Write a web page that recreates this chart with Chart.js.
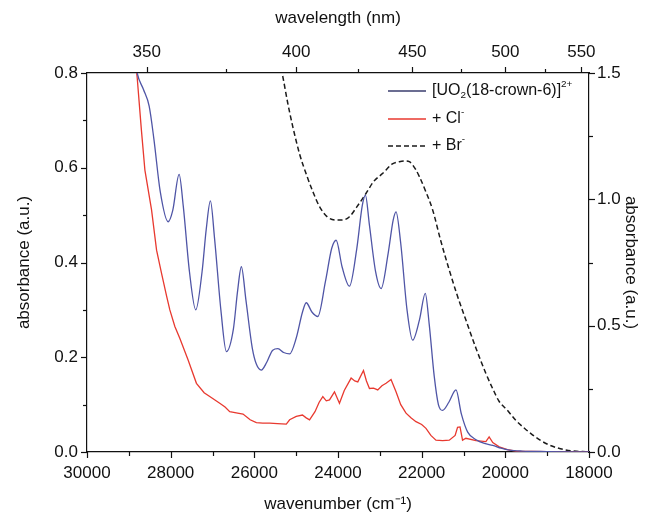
<!DOCTYPE html>
<html>
<head>
<meta charset="utf-8">
<title>UO2 crown absorbance</title>
<script src="https://cdn.jsdelivr.net/npm/chart.js@4.4.1/dist/chart.umd.min.js"></script>
<style>
  html, body { margin: 0; padding: 0; background: #fff; }
  #wrap { width: 650px; height: 516px; }
</style>
</head>
<body>
<div id="wrap"><canvas id="chart" width="650" height="516"></canvas></div>
<script>
// ----------------------------------------------------------------------------
// Data (wavenumber in cm-1, absorbance in a.u.)
// ----------------------------------------------------------------------------

// [UO2(18-crown-6)]2+  (left axis)
const crownX = [28850, 28800, 28650, 28514, 28400, 28250, 28060, 27950, 27798, 27700,
  27550, 27400, 27250, 27150, 27050, 26950, 26800, 26668, 26500, 26400,
  26310, 26200, 26050, 25950, 25833, 25700, 25560, 25437, 25300, 25156,
  25000, 24850, 24760, 24620, 24483, 24300, 24150, 24044, 23900, 23726,
  23550, 23420, 23344, 23250, 23100, 22970, 22800, 22680, 22613, 22500,
  22350, 22216, 22050, 21914, 21820, 21700, 21600, 21500, 21350, 21180,
  21050, 20900, 20700, 20500, 20300, 20100, 19900, 19600, 19000, 18000];
const crownY = [0.83, 0.80, 0.765, 0.73, 0.66, 0.55, 0.486, 0.51, 0.586, 0.52,
  0.38, 0.30, 0.38, 0.47, 0.53, 0.45, 0.30, 0.212, 0.26, 0.34,
  0.391, 0.32, 0.22, 0.185, 0.173, 0.19, 0.215, 0.218, 0.21, 0.207,
  0.24, 0.295, 0.315, 0.295, 0.286, 0.36, 0.43, 0.447, 0.39, 0.350,
  0.43, 0.52, 0.542, 0.48, 0.38, 0.345, 0.42, 0.49, 0.507, 0.44,
  0.30, 0.236, 0.28, 0.335, 0.27, 0.16, 0.10, 0.088, 0.105, 0.131,
  0.08, 0.042, 0.026, 0.018, 0.014, 0.008, 0.004, 0.002, 0.001, 0.0];

// + Cl-  (left axis)
const clX = [28850, 28800, 28700, 28616, 28457, 28337, 28218, 28100, 28020, 27900,
  27782, 27583, 27384, 27200, 27066, 26827, 26700, 26588, 26400, 26270,
  26100, 25952, 25800, 25634, 25450, 25236, 25156, 24998, 24850, 24760,
  24680, 24550, 24450, 24363, 24280, 24203, 24084, 23965, 23850, 23686,
  23600, 23527, 23391, 23320, 23248, 23150, 23050, 22950, 22851, 22732,
  22613, 22500, 22374, 22250, 22136, 22000, 21897, 21780, 21659, 21500,
  21340, 21200, 21142, 21083, 21023, 20942, 20700, 20465, 20387, 20300,
  20147, 19950, 19750, 19000, 18000];
const clY = [0.83, 0.79, 0.68, 0.595, 0.511, 0.426, 0.377, 0.33, 0.30, 0.265,
  0.240, 0.194, 0.145, 0.125, 0.117, 0.103, 0.095, 0.085, 0.082, 0.080,
  0.068, 0.062, 0.061, 0.061, 0.060, 0.059, 0.068, 0.075, 0.078, 0.072,
  0.068, 0.085, 0.105, 0.117, 0.108, 0.110, 0.127, 0.103, 0.13, 0.156,
  0.15, 0.148, 0.172, 0.15, 0.134, 0.135, 0.131, 0.14, 0.145, 0.153,
  0.127, 0.10, 0.082, 0.072, 0.064, 0.058, 0.050, 0.035, 0.025, 0.024,
  0.025, 0.035, 0.052, 0.053, 0.025, 0.029, 0.024, 0.022, 0.032, 0.02,
  0.011, 0.005, 0.002, 0.001, 0.0];

// + Br-  (right axis)
const brX = [25400, 25318, 25200, 25080, 24919, 24760, 24600, 24442, 24250, 24044,
  23900, 23726, 23550, 23328, 23150, 22930, 22700, 22533, 22400, 22294,
  22150, 22055, 21900, 21737, 21550, 21340, 21150, 20942, 20700, 20465,
  20300, 20147, 19950, 19749, 19550, 19352, 19150, 18954, 18750, 18556,
  18300, 18080];
const brY = [1.55, 1.485, 1.38, 1.287, 1.18, 1.10, 1.03, 0.971, 0.93, 0.918,
  0.918, 0.931, 0.97, 1.024, 1.07, 1.103, 1.14, 1.149, 1.152, 1.149,
  1.12, 1.090, 1.03, 0.958, 0.84, 0.720, 0.62, 0.522, 0.41, 0.311,
  0.25, 0.20, 0.165, 0.125, 0.095, 0.068, 0.045, 0.028, 0.016, 0.008,
  0.003, 0.001];

// Top axis (wavelength, nm)
const wavelengthTicks = [350, 400, 450, 500, 550];
const wavelengthMinor = [375, 425, 475, 525];

// Legend labels
const legendLabels = ['[UO2(18-crown-6)]2+', '+ Cl-', '+ Br-'];

// ============================================================================
// Styles
// ============================================================================

const FONT = "'Liberation Sans', Arial, Helvetica, sans-serif";
const AXIS_COLOR = '#111';
const CROWN_COLOR = '#4f55a6';
const CL_COLOR = '#e8392f';
const BR_COLOR = '#1a1a1a';

function zip(xs, ys) {
  return xs.map((x, i) => ({ x: x, y: ys[i] }));
}

// ============================================================================
// Plugins
// ============================================================================

/**
 * Outward tick marks, major and minor, on all four axes
 */
const tickMarks = {
  id: 'tickMarks',
  afterDraw(chart) {
    const { ctx, chartArea: a, scales } = chart;
    ctx.save();
    ctx.strokeStyle = AXIS_COLOR;
    ctx.lineWidth = 1.2;
    const mark = (x1, y1, x2, y2) => {
      ctx.beginPath();
      ctx.moveTo(x1, y1);
      ctx.lineTo(x2, y2);
      ctx.stroke();
    };
    for (let v = 18000; v <= 30000; v += 1000) {
      const x = Math.round(scales.x.getPixelForValue(v)) + 0.5;
      mark(x, a.bottom, x, a.bottom + (v % 2000 === 0 ? 6 : 4));
    }
    wavelengthTicks.forEach(nm => {
      const x = Math.round(scales.x2.getPixelForValue(1e7 / nm)) + 0.5;
      mark(x, a.top, x, a.top - 6);
    });
    wavelengthMinor.forEach(nm => {
      const x = Math.round(scales.x2.getPixelForValue(1e7 / nm)) + 0.5;
      mark(x, a.top, x, a.top - 4);
    });
    for (let i = 0; i <= 8; i++) {
      const y = Math.round(scales.y.getPixelForValue(i / 10)) + 0.5;
      mark(a.left, y, a.left - (i % 2 === 0 ? 6 : 4), y);
    }
    for (let i = 0; i <= 6; i++) {
      const y = Math.round(scales.y2.getPixelForValue(i * 0.25)) + 0.5;
      mark(a.right, y, a.right + (i % 2 === 0 ? 6 : 4), y);
    }
    ctx.restore();
  }
};

/**
 * Draw text with sub (s=-1) and sup (s=1) pieces
 */
function drawRich(ctx, parts, x, y, size) {
  parts.forEach(p => {
    const s = p.s ? size * 0.62 : size;
    ctx.font = `${s}px ${FONT}`;
    const dy = p.s === 1 ? -size * 0.42 : (p.s === -1 ? size * 0.25 : 0);
    ctx.fillText(p.t, x, y + dy);
    x += ctx.measureText(p.t).width;
  });
}

/**
 * Legend in the upper right of the plot
 */
const insideLegend = {
  id: 'insideLegend',
  afterDraw(chart) {
    const { ctx } = chart;
    const rows = [
      { y: 91, color: '#3a3d6e', dash: [], parts: [
        { t: '[UO' }, { t: '2', s: -1 }, { t: '(18-crown-6)]' }, { t: '2+', s: 1 }] },
      { y: 119, color: CL_COLOR, dash: [], parts: [{ t: '+ Cl' }, { t: '-', s: 1 }] },
      { y: 146, color: BR_COLOR, dash: [5, 3], parts: [{ t: '+ Br' }, { t: '-', s: 1 }] }
    ];
    ctx.save();
    ctx.textBaseline = 'middle';
    ctx.fillStyle = '#111';
    rows.forEach(r => {
      ctx.strokeStyle = r.color;
      ctx.lineWidth = r.dash.length ? 1.5 : 1.3;
      ctx.setLineDash(r.dash);
      ctx.beginPath();
      ctx.moveTo(388, r.y);
      ctx.lineTo(426, r.y);
      ctx.stroke();
      ctx.setLineDash([]);
      drawRich(ctx, r.parts, 432, r.y, 16);
    });
    ctx.restore();
  }
};

// ============================================================================
// Chart
// ============================================================================

const tickFont = { family: FONT, size: 17 };
const titleFont = { family: FONT, size: 17 };
const noGrid = { display: false, drawTicks: false };

new Chart(document.getElementById('chart').getContext('2d'), {
  type: 'line',
  data: {
    datasets: [
      {
        label: legendLabels[0],
        data: zip(crownX, crownY),
        borderColor: CROWN_COLOR,
        borderWidth: 1.3,
        pointRadius: 0,
        cubicInterpolationMode: 'monotone',
        yAxisID: 'y'
      },
      {
        label: legendLabels[1],
        data: zip(clX, clY),
        borderColor: CL_COLOR,
        borderWidth: 1.3,
        pointRadius: 0,
        tension: 0,
        yAxisID: 'y'
      },
      {
        label: legendLabels[2],
        data: zip(brX, brY),
        borderColor: BR_COLOR,
        borderWidth: 1.5,
        borderDash: [5, 3],
        pointRadius: 0,
        cubicInterpolationMode: 'monotone',
        yAxisID: 'y2'
      }
    ]
  },
  options: {
    responsive: false,
    animation: false,
    devicePixelRatio: 1,
    layout: { padding: 0 },
    plugins: {
      legend: { display: false },
      tooltip: { enabled: false }
    },
    scales: {
      x: {
        type: 'linear',
        position: 'bottom',
        min: 18000,
        max: 30000,
        reverse: true,
        grid: noGrid,
        border: { display: true, color: AXIS_COLOR, width: 1.2 },
        ticks: {
          stepSize: 2000,
          color: '#111',
          font: tickFont,
          padding: 11,
          maxRotation: 0,
          callback: v => String(v)
        },
        title: {
          display: true,
          text: 'wavenumber (cm⁻¹)',
          color: '#111',
          font: titleFont,
          padding: { top: 0, bottom: 1 }
        },
        afterFit: s => { s.height = 64; }
      },
      x2: {
        type: 'linear',
        position: 'top',
        min: 18000,
        max: 30000,
        reverse: true,
        grid: noGrid,
        border: { display: true, color: AXIS_COLOR, width: 1.2 },
        afterBuildTicks: s => {
          s.ticks = wavelengthTicks.map(nm => ({ value: 1e7 / nm }));
        },
        ticks: {
          autoSkip: false,
          color: '#111',
          font: tickFont,
          padding: 10,
          maxRotation: 0,
          callback: v => String(Math.round(1e7 / v))
        },
        title: {
          display: true,
          text: 'wavelength (nm)',
          color: '#111',
          font: titleFont,
          padding: { top: 8, bottom: 0 }
        },
        afterFit: s => { s.height = 73; }
      },
      y: {
        type: 'linear',
        position: 'left',
        min: 0,
        max: 0.8,
        grid: noGrid,
        border: { display: true, color: AXIS_COLOR, width: 1.2 },
        ticks: {
          stepSize: 0.2,
          color: '#111',
          font: tickFont,
          padding: 9,
          callback: v => v.toFixed(1)
        },
        title: {
          display: true,
          text: 'absorbance (a.u.)',
          color: '#111',
          font: titleFont,
          padding: { top: 14, bottom: 0 }
        },
        afterFit: s => { s.width = 87; }
      },
      y2: {
        type: 'linear',
        position: 'right',
        min: 0,
        max: 1.5,
        grid: noGrid,
        border: { display: true, color: AXIS_COLOR, width: 1.2 },
        ticks: {
          stepSize: 0.5,
          color: '#111',
          font: tickFont,
          padding: 8,
          callback: v => v.toFixed(1)
        },
        title: {
          display: true,
          text: 'absorbance (a.u.)',
          color: '#111',
          font: titleFont,
          padding: { top: 9, bottom: 0 }
        },
        afterFit: s => { s.width = 61; }
      }
    }
  },
  plugins: [tickMarks, insideLegend]
});
</script>
</body>
</html>
